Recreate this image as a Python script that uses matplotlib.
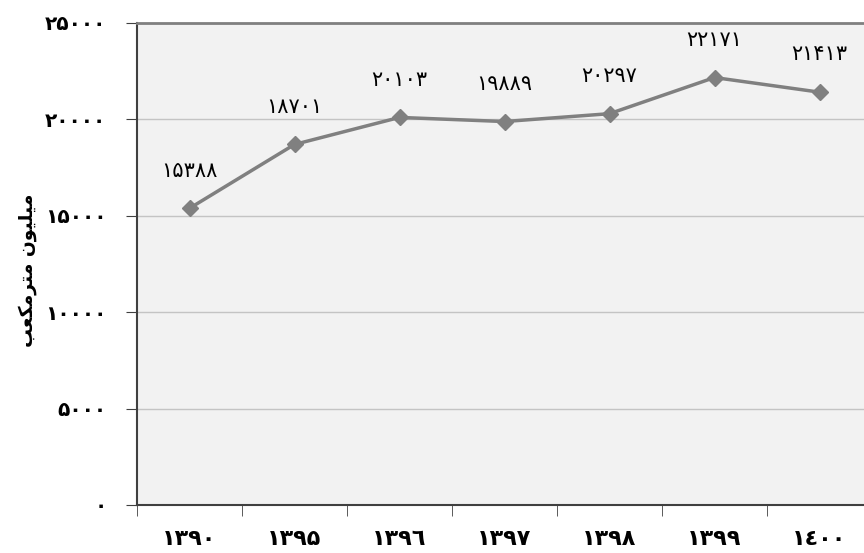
import matplotlib.pyplot as plt
from matplotlib.ticker import FixedLocator

# years (x labels, as drawn in the chart) and production values
years = ['۱۳۹۰', '۱۳۹۵', '۱۳۹٦', '۱۳۹۷', '۱۳۹۸', '۱۳۹۹', '۱٤۰۰']
values = [15388, 18701, 20103, 19889, 20297, 22171, 21413]
value_labels = ['۱۵۳۸۸', '۱۸۷۰۱', '۲۰۱۰۳', '۱۹۸۸۹', '۲۰۲۹۷', '۲۲۱۷۱', '۲۱۴۱۳']
y_ticks = [0, 5000, 10000, 15000, 20000, 25000]
y_tick_labels = ['۰', '۵۰۰۰', '۱۰۰۰۰', '۱۵۰۰۰', '۲۰۰۰۰', '۲۵۰۰۰']

# "میلیون مترمکعب" written in presentation forms, visual order (no shaping in mpl)
word1 = '\uFEE5\uFEEE\uFEF4\uFEE0\uFEF4\uFEE3'
word2 = '\uFE90\uFECC\uFEDC\uFEE3\uFEAE\uFE98\uFEE3'
y_label = word2 + ' ' + word1

plt.rcParams['font.family'] = ['DejaVu Sans']

fig = plt.figure(figsize=(8.64, 5.53), dpi=100)
ax = fig.add_axes([137 / 864, 48 / 553, 735 / 864, 482 / 553])
ax.set_facecolor('#f2f2f2')

x = list(range(len(years)))
ax.plot(x, values, color='#808080', lw=2.5, marker='D', ms=8.5, zorder=3)

for xi, v, lab in zip(x, values, value_labels):
    ax.annotate(lab, (xi, v), xytext=(0, 20), textcoords='offset points',
                ha='center', va='bottom', fontsize=15, color='black')

ax.set_xlim(-0.5, len(years) - 0.5)
ax.set_ylim(0, 25000)
ax.set_yticks(y_ticks)
ax.set_yticklabels(y_tick_labels, fontsize=14.5, fontweight='bold')
ax.set_xticks(x)
ax.set_xticklabels(years, fontsize=16, fontweight='bold')
ax.tick_params(axis='x', length=0, pad=17)
ax.xaxis.set_minor_locator(FixedLocator([i - 0.5 for i in range(len(years) + 1)]))
ax.tick_params(axis='x', which='minor', length=8, direction='out', color='#404040')
ax.tick_params(axis='y', length=8, direction='out', color='#404040', pad=14)

ax.grid(axis='y', color='#c4c4c4', lw=1)
ax.set_axisbelow(True)
ax.spines['right'].set_visible(False)
ax.spines['top'].set_color('#808080')
ax.spines['top'].set_linewidth(2)
for s in ['left', 'bottom']:
    ax.spines[s].set_color('#404040')
    ax.spines[s].set_linewidth(1.5)

ax.set_ylabel(y_label, fontsize=13.5, fontweight='bold')
ax.yaxis.set_label_coords(-100 / 735, 0.487)

fig.savefig('out.png', dpi=100)
